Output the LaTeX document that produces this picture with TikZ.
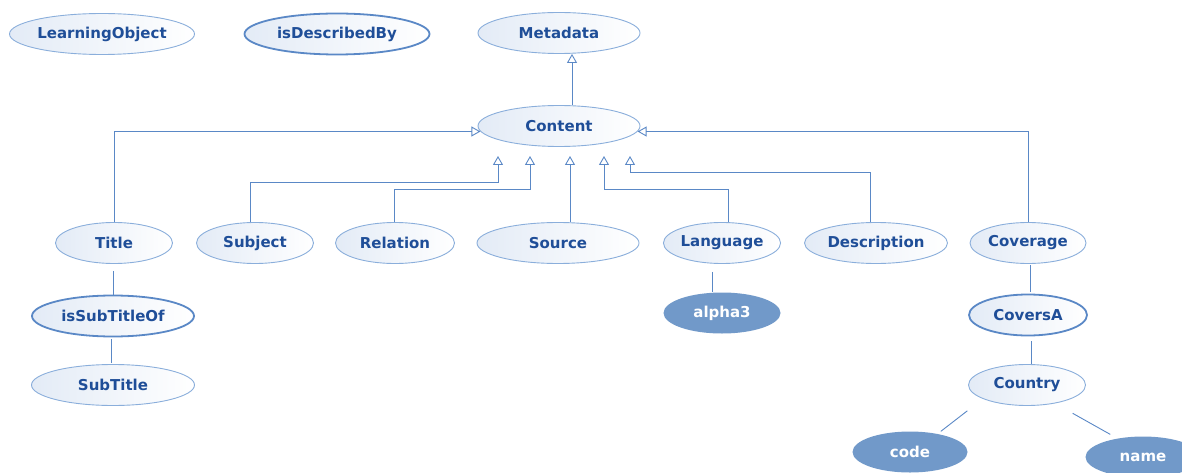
\documentclass[tikz,border=0pt]{standalone}
\usepackage{fontspec}
\setmainfont{DejaVu Sans}
\usetikzlibrary{shapes.geometric,arrows.meta}
\definecolor{edgeblue}{HTML}{5A88C6}
\definecolor{rimblue}{HTML}{8AAEDB}
\definecolor{shadeblue}{HTML}{E3EBF6}
\definecolor{textblue}{HTML}{1F4E98}
\definecolor{solidblue}{HTML}{7199C9}
\tikzset{
  concept/.style={ellipse, draw=rimblue, line width=0.9pt, left color=shadeblue, right color=white,
    text=textblue, font=\fontsize{15}{18}\selectfont\bfseries, inner sep=0pt,
    minimum width=#1, minimum height=41pt},
  concept/.default=117pt,
  relation/.style={concept=#1, draw=edgeblue, line width=1.8pt},
  relation/.default=162pt,
  attribute/.style={ellipse, fill=solidblue, draw=none, text=white,
    font=\fontsize{15}{18}\selectfont\bfseries, inner sep=0pt,
    minimum width=#1, minimum height=41pt},
  attribute/.default=116pt,
  gen/.style={draw=edgeblue, line width=0.9pt, -{Triangle[open,length=9pt,width=10pt]}},
  link/.style={draw=edgeblue, line width=0.9pt},
}
\begin{document}
\begin{tikzpicture}[x=1pt,y=-1pt]
\useasboundingbox (0,0) rectangle (1182,473);

% top row
\node[concept=185pt] (lo) at (102,34) {LearningObject};
\node[relation=185pt] (desc) at (337,34) {isDescribedBy};
\node[concept=162pt] (metadata) at (559,33) {Metadata};
\node[concept=162pt] (content) at (559,126) {Content};

% elements of Content
\node[concept] (title) at (114,243) {Title};
\node[concept] (subject) at (255,243) {Subject};
\node[concept=119pt] (relationel) at (395,243) {Relation};
\node[concept=162pt] (source) at (558,243) {Source};
\node[concept=116pt] (language) at (722,243) {Language};
\node[concept=143pt] (description) at (876,243) {Description};
\node[concept=116pt] (coverage) at (1028,243) {Coverage};

% refinements
\node[relation] (subof) at (113,316) {isSubTitleOf};
\node[concept=163pt] (subtitle) at (113,385) {SubTitle};
\node[attribute=117pt] (alpha) at (722,313) {alpha3};
\node[relation=118pt] (covers) at (1028,315) {CoversA};
\node[concept=117pt] (country) at (1027,385) {Country};
\node[attribute=115pt] (code) at (910,452) {code};
\node[attribute=115pt] (name) at (1143,457) {name};

% arrow tips under Content
\coordinate (t1) at (498,156);
\coordinate (t2) at (530,156);
\coordinate (t3) at (570,156);
\coordinate (t4) at (604,156);
\coordinate (t5) at (630,156);

% generalisation arrows
\draw[gen] ([xshift=13pt]content.north) -- ([xshift=13pt]metadata.south);
\draw[gen] (title.north) |- (content.184);
\draw[gen] (coverage.north) |- (content.356);
\draw[gen] ([xshift=-5pt]subject.north) -- ++(0,-40) -| (t1);
\draw[gen] ([xshift=-1pt]relationel.north) -- ++(0,-33) -| (t2);
\draw[gen] (t3 |- source.north) -- (t3);
\draw[gen] ([xshift=6pt]language.north) -- ++(0,-33) -| (t4);
\draw[gen] ([xshift=-6pt]description.north) -- ++(0,-50) -| (t5);

% plain links
\draw[link, shorten <=7pt] (title.south -| subof.north) -- (subof.north);
\draw[link, shorten <=2pt, shorten >=1pt] ([xshift=-2pt]subof.south) -- ([xshift=-2pt]subtitle.north);
\draw[link, shorten <=8pt] ([xshift=-10pt]language.south) -- ([xshift=-10pt]alpha.north);
\draw[link, shorten <=1pt, shorten >=2pt] ([xshift=2pt]coverage.south) -- ([xshift=2pt]covers.north);
\draw[link, shorten <=5pt] ([xshift=3pt]covers.south) -- ([xshift=4pt]country.north);
\draw[link] ([shift={(-18,11)}]country.south west) -- ([shift={(-10,-6)}]code.north east);
\draw[link] ([shift={(4,13.5)}]country.south east) -- ([shift={(8,-8)}]name.north west);
\end{tikzpicture}
\end{document}
